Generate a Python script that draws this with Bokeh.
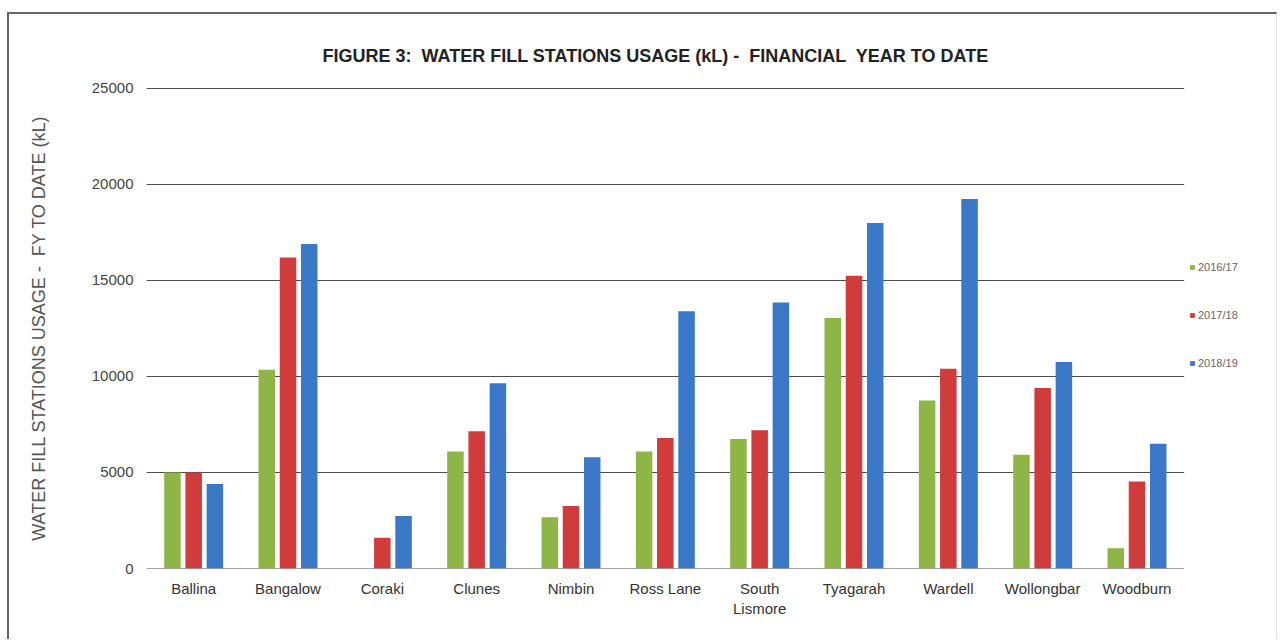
from bokeh.plotting import figure
from bokeh.models import (FactorRange, Range1d, FixedTicker, ColumnDataSource,
                          Legend, LegendItem)
from bokeh.transform import dodge
from bokeh.embed import file_html
from bokeh.resources import INLINE

categories = ["Ballina", "Bangalow", "Coraki", "Clunes", "Nimbin", "Ross Lane",
              "South Lismore", "Tyagarah", "Wardell", "Wollongbar", "Woodburn"]
series_names = ["2016/17", "2017/18", "2018/19"]
fy_2016_17 = [5000, 10350, 0, 6100, 2670, 6100, 6750, 13050, 8750, 5920, 1060]
fy_2017_18 = [5000, 16200, 1600, 7150, 3250, 6800, 7200, 15250, 10400, 9400, 4530]
fy_2018_19 = [4400, 16900, 2730, 9650, 5800, 13400, 13850, 18000, 19250, 10750, 6500]
y_ticks = [0, 5000, 10000, 15000, 20000, 25000]
colors = ["#8DB646", "#D03B3C", "#3B78C7"]

FONT = "Liberation Sans"
NB = "\u00a0"
factors = [c.replace("South ", "South\n") for c in categories]
# an empty slot at the right end holds the legend area inside the frame
all_factors = factors + [" "]
n_cat = len(factors)

W, H = 1270, 627
p = figure(x_range=FactorRange(*all_factors, range_padding=0),
           y_range=Range1d(0, 25052),
           width=W, height=H,
           output_backend="svg", toolbar_location=None,
           min_border_left=137, min_border_right=1,
           min_border_top=73, min_border_bottom=73)
p.styles = {"margin-left": "7px", "margin-top": "12px",
            "border-left": "2px solid #666", "border-top": "2px solid #666",
            "border-right": "1px solid #e4e4e4"}
p.outline_line_color = None
p.background_fill_color = "white"
p.border_fill_color = "white"

# title
p.title.text = ("FIGURE 3:" + NB + " WATER FILL STATIONS USAGE (kL) -" + NB +
                " FINANCIAL" + NB + " YEAR TO DATE")
p.title.align = "left"
p.title.offset = 176
p.title.standoff = 39
p.title.vertical_align = "top"
p.title.text_font = FONT
p.title.text_font_size = "18px"
p.title.text_font_style = "bold"
p.title.text_color = "#222222"

# horizontal grid lines (and the zero baseline) only across the category area
p.segment(x0=[0] * len(y_ticks), x1=[n_cat] * len(y_ticks), y0=y_ticks, y1=y_ticks,
          line_color="#4a4a4a", line_width=1)

src = ColumnDataSource(dict(cat=factors, a=fy_2016_17, b=fy_2017_18, c=fy_2018_19))
renderers = []
for key, off, col in zip(["a", "b", "c"], [-0.225, 0.0, 0.225], colors):
    r = p.vbar(x=dodge("cat", off, range=p.x_range), top=key, width=0.175,
               source=src, fill_color=col, line_color=None)
    renderers.append(r)

p.xgrid.grid_line_color = None
p.ygrid.grid_line_color = None
p.yaxis.ticker = FixedTicker(ticks=y_ticks)
p.yaxis.axis_line_color = None
p.yaxis.major_tick_line_color = None
p.yaxis.minor_tick_line_color = None
p.yaxis.major_tick_out = 0
p.yaxis.major_tick_in = 0
p.yaxis.major_label_standoff = 13
p.yaxis.major_label_text_font = FONT
p.yaxis.major_label_text_font_size = "15px"
p.yaxis.major_label_text_color = "#444444"
p.yaxis.axis_label = "WATER FILL STATIONS USAGE -" + NB + " FY TO DATE (kL)"
p.yaxis.axis_label_text_font = FONT
p.yaxis.axis_label_text_font_size = "18px"
p.yaxis.axis_label_text_font_style = "normal"
p.yaxis.axis_label_text_color = "#555555"
p.yaxis.axis_label_standoff = 40

p.xaxis.axis_line_color = None
p.xaxis.major_tick_line_color = None
p.xaxis.major_tick_out = 0
p.xaxis.major_tick_in = 0
p.xaxis.major_label_standoff = 11
p.xaxis.major_label_text_font = FONT
p.xaxis.major_label_text_font_size = "15px"
p.xaxis.major_label_text_color = "#333333"

legend = Legend(items=[LegendItem(label=n, renderers=[r]) for n, r in zip(series_names, renderers)],
                location=(1043, 199), orientation="vertical",
                glyph_width=6, glyph_height=6, label_height=12,
                label_standoff=3, spacing=36, padding=0, margin=0,
                label_text_font=FONT, label_text_font_size="11px",
                label_text_color="#666666",
                border_line_color=None, background_fill_alpha=0)
p.add_layout(legend)

open("out.html", "w").write(file_html(p, INLINE))
